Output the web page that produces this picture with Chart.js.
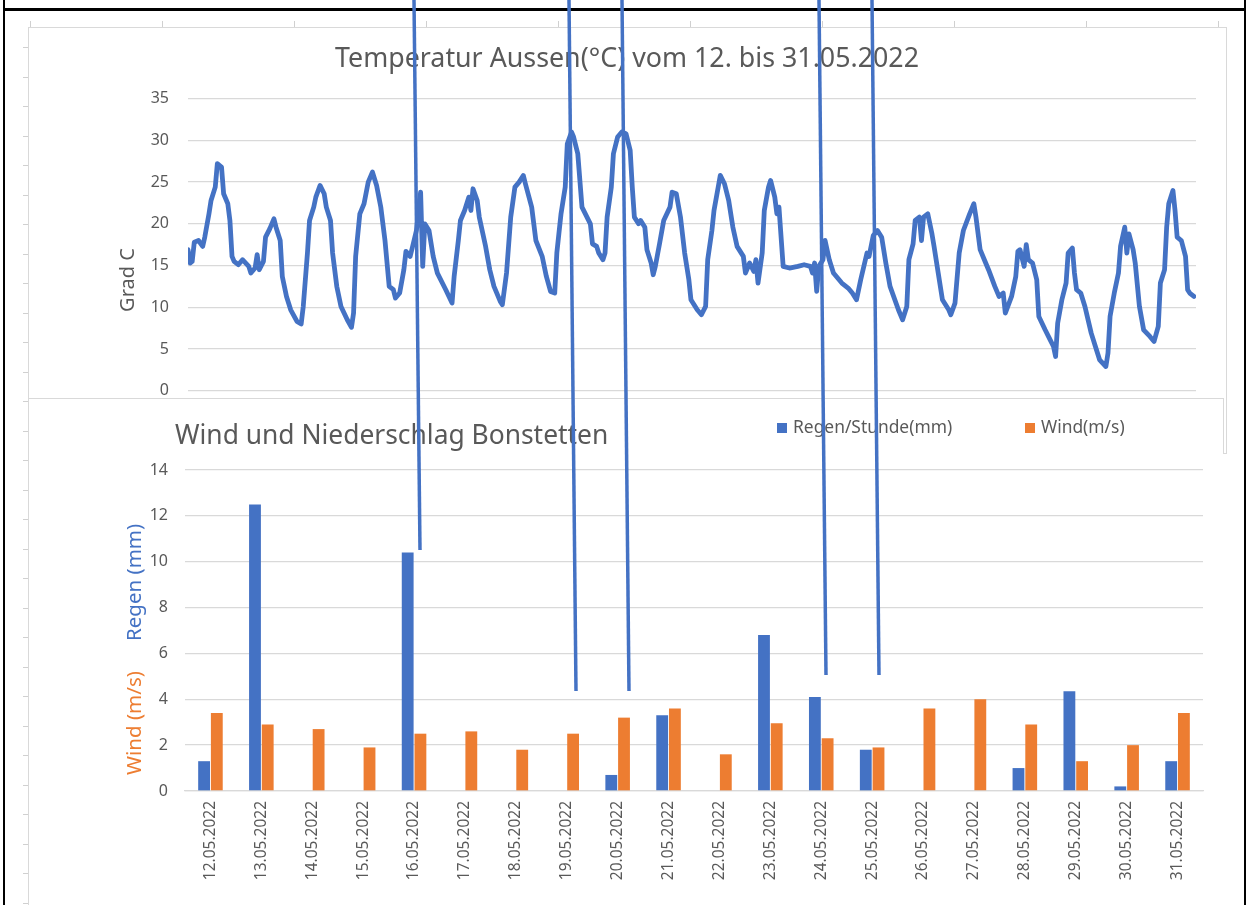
<!DOCTYPE html>
<html lang="de">
<head>
<meta charset="utf-8">
<title>Temperatur, Wind und Niederschlag Bonstetten</title>
<script src="https://cdn.jsdelivr.net/npm/chart.js@4.4.1/dist/chart.umd.min.js"></script>
<style>
  html, body { margin: 0; padding: 0; background: #fff; }
  body { width: 1246px; height: 905px; position: relative; overflow: hidden; font-family: "Noto Sans", sans-serif; }
  .abs { position: absolute; box-sizing: border-box; }
  #tempWrap { left: 28px; top: 27px; width: 1198px; height: 426px; background: #fff; z-index: 1; }
  #tempFrame { left: 28px; top: 27px; width: 1199px; height: 427px; border: 1px solid #d9d9d9; z-index: 2; }
  #windWrap { left: 28px; top: 398px; width: 1195px; height: 507px; background: #fff; z-index: 3; }
  #windFrameTop { left: 28px; top: 398px; width: 1196px; height: 1px; background: #d9d9d9; z-index: 4; }
  #windFrameRight { left: 1223px; top: 398px; width: 1px; height: 56px; background: #d9d9d9; z-index: 4; }
  #ruler { left: 0; top: 0; width: 1246px; height: 905px; z-index: 5; }
  #ruler .line { position: absolute; background: #d9d9d9; }
  #ruler .tk { position: absolute; background: #d0d0d0; }
  #frameTop { left: 4px; top: 8px; width: 1242px; height: 3px; background: #000; z-index: 7; }
  #frameLeft { left: 3px; top: 0; width: 2px; height: 905px; background: #000; z-index: 7; }
  #frameRight { left: 1244px; top: 0; width: 2px; height: 905px; background: #000; z-index: 7; }
  #linkWrap { left: 0; top: 0; width: 1246px; height: 905px; z-index: 8; pointer-events: none; }
</style>
</head>
<body>
<div id="tempWrap" class="abs"><canvas id="tempChart"></canvas></div>
<div id="tempFrame" class="abs"></div>
<div id="windWrap" class="abs"><canvas id="windChart"></canvas></div>
<div id="windFrameTop" class="abs"></div>
<div id="windFrameRight" class="abs"></div>
<div id="ruler" class="abs"></div>
<div id="frameTop" class="abs"></div>
<div id="frameLeft" class="abs"></div>
<div id="frameRight" class="abs"></div>
<div id="linkWrap" class="abs"><canvas id="linkChart"></canvas></div>

<script>
// ---- Temperature: hours since 12.05.2022 00:00 and outdoor temperature in °C ----
const tempHours = [
  0, 1, 2, 3, 5, 7, 8, 10, 11, 13, 14, 16, 17, 19, 20, 21, 22, 24, 26, 29,
  30, 32, 33, 34, 36, 37, 39, 41, 42, 44, 45, 47, 49, 52, 54, 55, 57, 58, 60, 61,
  63, 65, 66, 68, 69, 71, 73, 76, 78, 79, 80, 82, 84, 86, 88, 90, 92, 94, 96,
  98, 99, 101, 103, 104, 106, 107, 109, 111, 112, 113, 115, 117, 119, 123, 126, 127, 129, 130, 132,
  134, 135, 136, 138, 139, 142, 144, 146, 149, 150, 152, 154, 156, 158, 160, 161, 164, 166, 169, 171,
  173, 175, 176, 178, 180, 181, 183, 184, 186, 188,
  192, 193, 195, 196, 198, 199, 200, 202, 203, 205, 207, 209, 211, 212, 213, 215, 216, 218, 219, 221,
  222, 223, 225, 227, 230, 231, 233, 235, 237, 239, 240, 243, 245, 247, 248, 250, 251, 253, 254, 256,
  258, 260, 262, 265, 266, 268, 270, 271, 272, 274, 275, 277, 278, 280, 281, 282, 284, 287,
  291, 294, 297, 298, 299, 300, 301, 303, 304, 306, 308, 312, 315, 317, 319, 321, 324, 325, 327, 329,
  331, 333, 335, 339, 341, 343, 344, 346, 347, 349, 350, 351, 353, 355, 356, 358, 360, 363, 364, 366,
  368, 370, 373, 375, 376, 378, 380, 382,
  385, 387, 389, 390, 393, 395, 396, 397, 399, 400, 401, 403, 405, 406, 409, 411, 413, 414, 415, 417,
  419, 420, 422, 423, 424, 426, 428, 431, 433, 435, 438, 439, 440, 442, 444, 445, 447, 448, 449, 451,
  452, 454, 456, 459, 461, 463, 464, 466, 467, 468, 470, 471, 472, 474, 476, 477, 478, 480
];
const tempValues = [
  16.9, 15.3, 15.5, 17.8, 18.0, 17.3, 18.4, 21.2, 22.8, 24.4, 27.2, 26.8, 23.6, 22.4, 20.4, 16.1, 15.5, 15.1, 15.7, 14.9,
  14.1, 14.7, 16.3, 14.5, 15.5, 18.4, 19.4, 20.6, 19.6, 18.0, 13.7, 11.3, 9.7, 8.3, 8.0, 10.1, 16.5, 20.4, 22.0, 23.2,
  24.6, 23.6, 22.0, 20.4, 16.5, 12.5, 10.1, 8.5, 7.6, 9.3, 16.1, 21.2, 22.4, 25.0, 26.2, 24.6, 22.0, 18.0, 12.5,
  12.1, 11.1, 11.7, 14.5, 16.7, 16.1, 17.1, 19.2, 23.8, 14.9, 20.0, 19.2, 16.1, 14.1, 12.1, 10.5, 13.7, 18.0, 20.4, 21.6,
  23.2, 21.6, 24.2, 22.8, 20.8, 17.3, 14.5, 12.5, 10.7, 10.3, 14.1, 20.8, 24.4, 25.0, 25.8, 24.8, 22.0, 18.0, 16.1, 13.7,
  11.9, 11.7, 16.5, 21.2, 24.4, 29.6, 31.0, 30.4, 28.4, 22.0,
  20.0, 17.6, 17.3, 16.5, 15.7, 16.5, 20.8, 24.4, 28.4, 30.4, 31.0, 30.8, 28.8, 24.4, 20.8, 20.0, 20.4, 19.6, 16.9, 15.3,
  13.9, 14.9, 17.6, 20.4, 22.0, 23.8, 23.6, 20.8, 16.5, 13.3, 10.9, 9.7, 9.1, 10.1, 15.7, 19.2, 21.6, 24.4, 25.8, 24.8,
  22.8, 19.6, 17.3, 16.1, 14.1, 15.3, 14.3, 15.7, 12.9, 16.5, 21.6, 24.4, 25.2, 23.2, 21.2, 22.0, 14.9, 14.7,
  14.9, 15.1, 14.9, 14.1, 15.3, 11.9, 14.9, 15.7, 18.0, 15.7, 14.1, 12.9, 12.3, 11.7, 10.9, 13.3, 16.5, 16.1, 18.6, 19.2,
  18.4, 15.3, 12.5, 9.7, 8.5, 10.1, 15.7, 17.6, 20.4, 20.8, 18.0, 20.8, 21.2, 18.8, 17.3, 14.1, 10.9, 9.7, 9.1, 10.5,
  16.5, 19.2, 21.2, 22.4, 20.8, 16.9, 15.7, 14.5,
  12.5, 11.3, 11.7, 9.3, 11.3, 13.7, 16.7, 16.9, 14.9, 17.5, 15.7, 15.3, 13.3, 8.9, 7.3, 6.3, 5.3, 4.1, 8.1, 10.9,
  12.9, 16.5, 17.1, 14.1, 12.1, 11.7, 10.1, 6.9, 5.3, 3.7, 2.9, 4.5, 8.9, 11.7, 14.1, 17.3, 19.6, 16.5, 18.8, 16.9,
  15.3, 10.1, 7.3, 6.5, 5.9, 7.7, 12.9, 14.5, 19.6, 22.4, 24.0, 21.6, 18.4, 18.0, 16.1, 12.1, 11.7, 11.3
];

// ---- Daily rain and wind ----
const days = [
  '12.05.2022', '13.05.2022', '14.05.2022', '15.05.2022', '16.05.2022', '17.05.2022', '18.05.2022',
  '19.05.2022', '20.05.2022', '21.05.2022', '22.05.2022', '23.05.2022', '24.05.2022', '25.05.2022',
  '26.05.2022', '27.05.2022', '28.05.2022', '29.05.2022', '30.05.2022', '31.05.2022'
];
const rainMm = [1.3, 12.5, 0, 0, 10.4, 0, 0, 0, 0.7, 3.3, 0, 6.8, 4.1, 1.8, 0, 0, 1.0, 4.35, 0.2, 1.3];
const windMs = [3.4, 2.9, 2.7, 1.9, 2.5, 2.6, 1.8, 2.5, 3.2, 3.6, 1.6, 2.95, 2.3, 1.9, 3.6, 4.0, 2.9, 1.3, 2.0, 3.4];

// ---- Hand-drawn connectors (page pixels): top x, bottom x, bottom y ----
const linkTopX = [414, 569, 622, 819, 872];
const linkBottomX = [420, 576, 629, 826, 879];
const linkBottomY = [550, 691, 691, 675, 675];

const tempTitle = 'Temperatur Aussen(°C) vom 12. bis 31.05.2022';
const tempAxisTitle = 'Grad C';
const windTitle = 'Wind und Niederschlag Bonstetten';
const rainLabel = 'Regen/Stunde(mm)';
const windLabel = 'Wind(m/s)';
const windAxisTitle = 'Wind (m/s)';
const rainAxisTitle = 'Regen (mm)';

const BLUE = '#4472C4';
const ORANGE = '#ED7D31';
const TEXT = '#595959';
const GRID = '#d9d9d9';
const FONT = '"Noto Sans", sans-serif';

// light grey ruler frame with tick marks
(function buildRuler() {
  const r = document.getElementById('ruler');
  const add = (cls, css) => { const d = document.createElement('div'); d.className = cls; d.style.cssText = css; r.appendChild(d); };
  add('line', 'left:28px;top:27px;width:1px;height:878px;');
  for (let x = 30; x < 1230; x += 132) add('tk', `left:${x}px;top:21px;width:1px;height:6px;`);
  for (let y = 47; y < 905; y += 29.5) add('tk', `left:23px;top:${Math.round(y)}px;width:5px;height:1px;`);
})();

// rotated y-axis title for the temperature chart
const tempAxisTitlePlugin = {
  id: 'tempAxisTitle',
  afterDraw(chart) {
    const ctx = chart.ctx;
    ctx.save();
    ctx.translate(100, 253);
    ctx.rotate(-Math.PI / 2);
    ctx.font = '20px ' + FONT;
    ctx.fillStyle = TEXT;
    ctx.textAlign = 'center';
    ctx.textBaseline = 'middle';
    ctx.fillText(tempAxisTitle, 0, 0);
    ctx.restore();
  }
};

// title, legend row and two-coloured axis title for the wind/rain chart
const windDecorPlugin = {
  id: 'windDecor',
  afterDraw(chart) {
    const ctx = chart.ctx;
    const ds = chart.data.datasets;
    ctx.save();
    ctx.fillStyle = TEXT;
    ctx.font = '26.4px ' + FONT;
    ctx.textAlign = 'left';
    ctx.textBaseline = 'middle';
    ctx.fillText(windTitle, 147, 38);

    ctx.font = '17.4px ' + FONT;
    const items = [{ box: 749, text: 765 }, { box: 997, text: 1013 }];
    items.forEach((it, i) => {
      ctx.fillStyle = ds[i].backgroundColor;
      ctx.fillRect(it.box, 25, 10, 10);
      ctx.fillStyle = TEXT;
      ctx.fillText(ds[i].label, it.text, 30);
    });

    ctx.font = '20.5px ' + FONT;
    ctx.textAlign = 'left';
    ctx.translate(107, 0);
    ctx.rotate(-Math.PI / 2);
    ctx.fillStyle = ORANGE;
    ctx.fillText(windAxisTitle, -377, 0);
    ctx.fillStyle = BLUE;
    ctx.fillText(rainAxisTitle, -243, 0);
    ctx.restore();
  }
};

function buildCharts() {
  Chart.defaults.font.family = FONT;
  Chart.defaults.color = TEXT;

  new Chart(document.getElementById('tempChart'), {
    type: 'line',
    data: {
      datasets: [{
        label: 'Temperatur Aussen',
        data: tempHours.map((h, i) => ({ x: h, y: tempValues[i] })),
        borderColor: BLUE,
        borderWidth: 4.8,
        borderJoinStyle: 'round',
        borderCapStyle: 'round',
        pointRadius: 0,
        tension: 0,
        fill: false
      }]
    },
    options: {
      responsive: true,
      maintainAspectRatio: false,
      animation: false,
      events: [],
      layout: { padding: { top: 0, left: 30, right: 30, bottom: 62.3 } },
      plugins: {
        legend: { display: false },
        tooltip: { enabled: false },
        title: {
          display: true,
          text: tempTitle,
          color: TEXT,
          font: { size: 26.8, weight: 'normal', family: FONT },
          padding: { top: 16.4, bottom: 23.1 }
        }
      },
      scales: {
        x: { type: 'linear', min: 0, max: 481, display: false },
        y: {
          min: 0, max: 35,
          ticks: { stepSize: 5, padding: 19, color: TEXT, font: { size: 16 } },
          grid: { color: GRID, lineWidth: 1.3, drawTicks: false },
          border: { display: false },
          afterFit(scale) { scale.width = 130; }
        }
      }
    },
    plugins: [tempAxisTitlePlugin]
  });

  new Chart(document.getElementById('windChart'), {
    type: 'bar',
    data: {
      labels: days,
      datasets: [
        { label: rainLabel, data: rainMm, backgroundColor: BLUE, borderWidth: 0,
          categoryPercentage: 0.5, barPercentage: 0.93 },
        { label: windLabel, data: windMs, backgroundColor: ORANGE, borderWidth: 0,
          categoryPercentage: 0.5, barPercentage: 0.93 }
      ]
    },
    options: {
      responsive: true,
      maintainAspectRatio: false,
      animation: false,
      events: [],
      layout: { padding: { top: 72, left: 0, right: 20, bottom: 0 } },
      plugins: {
        legend: { display: false },
        tooltip: { enabled: false },
        title: { display: false }
      },
      scales: {
        x: {
          ticks: { autoSkip: false, minRotation: 90, maxRotation: 90, padding: 10, color: TEXT, font: { size: 15.5 } },
          grid: { display: false, drawTicks: false },
          border: { display: true, color: GRID, width: 1.3 },
          afterFit(scale) { scale.height = 114; }
        },
        y: {
          min: 0, max: 14,
          ticks: { stepSize: 2, padding: 17, color: TEXT, font: { size: 16 } },
          grid: { color: GRID, lineWidth: 1.3, drawTicks: false },
          border: { display: false },
          afterFit(scale) { scale.width = 157; }
        }
      }
    },
    plugins: [windDecorPlugin]
  });

  new Chart(document.getElementById('linkChart'), {
    type: 'scatter',
    data: {
      datasets: linkTopX.map((x0, i) => ({
        data: [{ x: x0, y: 0 }, { x: linkBottomX[i], y: linkBottomY[i] }],
        showLine: true,
        borderColor: BLUE,
        borderWidth: 3.5,
        borderCapStyle: 'butt',
        pointRadius: 0,
        fill: false
      }))
    },
    options: {
      responsive: true,
      maintainAspectRatio: false,
      animation: false,
      events: [],
      layout: { padding: 0 },
      plugins: { legend: { display: false }, tooltip: { enabled: false } },
      scales: {
        x: { type: 'linear', min: 0, max: 1246, display: false },
        y: { type: 'linear', min: 0, max: 905, reverse: true, display: false }
      }
    }
  });
}

const fontReady = document.fonts && document.fonts.load
  ? Promise.all(['16px', '20px', '26px'].map(s => document.fonts.load(s + ' "Noto Sans"'))).catch(() => {})
  : Promise.resolve();
fontReady.then(buildCharts);
</script>
</body>
</html>
